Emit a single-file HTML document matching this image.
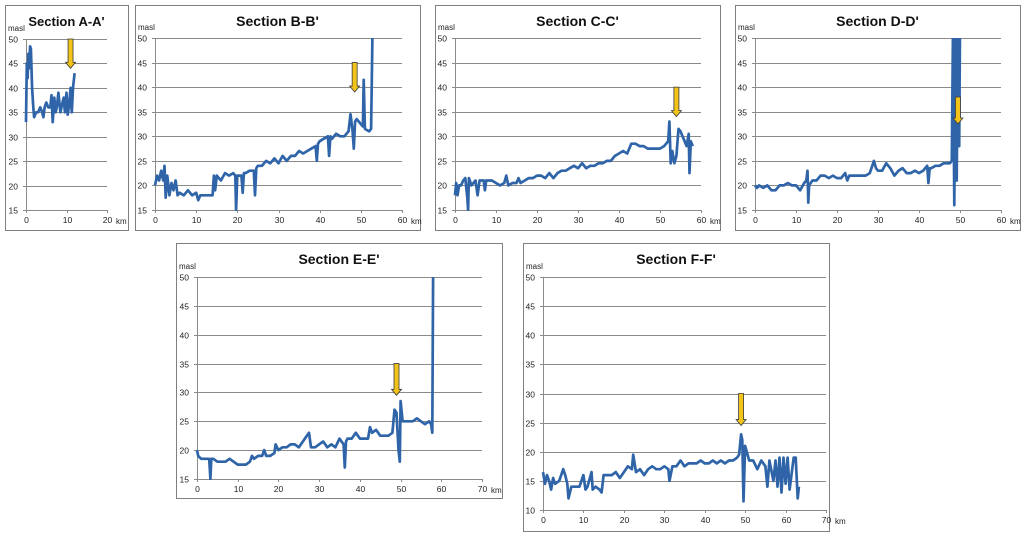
<!DOCTYPE html>
<html><head><meta charset="utf-8"><style>
html,body{margin:0;padding:0;background:#fff;}
svg{display:block;font-family:"Liberation Sans",sans-serif;}
</style></head><body>
<svg id="chart" width="1024" height="535" viewBox="0 0 1024 535" xmlns="http://www.w3.org/2000/svg"></svg>
<script>
// ---- data ----
const aKm=[0,0.2,0.4,0.6,0.8,1,1.2,1.5,1.8,2,2.5,3,3.5,4,4.3,4.6,5,5.5,6,6.3,6.6,7,7.3,7.6,8,8.5,9,9.3,9.6,10,10.3,10.6,11,11.3,11.6,12];
const aElev=[33,45,42,47,44,48.5,48,40,36,34,35,35,36,35,34,36,37,36,36,38.5,33,38,35,36,39,35,37,38,35,39,34.5,36,40,35,40,43];
const bKm=[0,0.5,1,1.5,2,2.3,2.6,3,3.5,4,4.5,5,5.5,6,7,8,9,10,10.5,11,11.5,12,13,14,14.3,14.6,15,16,17,18,19,19.5,19.7,20,21,21.3,21.6,22,23,24,24.3,24.6,25,26,27,28,29,30,31,32,33,34,35,36,37,38,39,39.3,39.6,40,41,42,42.3,42.6,43,44,45,46,47,47.5,48,48.3,48.6,49,50,50.5,50.7,51,52,52.5,52.8,53];
const bElev=[20,22,21,23,21,24,17.5,22,18,20.5,19,21,18,18.5,18,19,18,18.5,17,18,18,18,18,18,22,19,22,21,22.5,22,22.5,22,15,22,22,18.5,22.5,22.5,23,23,18,23.5,24,24,25,24.5,25.5,24.5,26,25,26,26,27,26.5,27,27.5,28,25,28.5,29,29.5,30,26,30,29.5,30.5,30,30,31,34.5,31,27.5,33,33.5,32.5,32,41.5,31.5,31,31.5,50,50];
const cKm=[0,0.3,0.6,1,1.5,2,2.5,3,3.2,3.4,3.6,4,5,5.5,6,7,7.3,7.6,8,9,10,11,12,12.5,13,14,15,15.5,16,17,18,19,20,21,22,23,24,25,26,27,28,29,30,31,32,33,34,35,36,37,38,39,40,41,42,43,44,45,46,47,48,49,50,51,52,52.3,52.6,53,53.5,54,54.5,55,55.5,56,56.5,57,57.2,57.5,58];
const cElev=[18,20.5,18,20,20,21,21.5,17.5,15,21.5,21,20,21,18,21,21,19,21,21,21,20.5,20,20.5,22,20,20.5,20.5,21.5,20.5,21,21.5,21.5,22,22,21.5,22.5,21.5,22.5,23,23,23.5,24,23.5,24.5,23.5,24,24,24.5,24.5,25,25,26,26.5,27,26.5,28.5,28.5,28,28,27.5,27.5,27.5,27.5,28,29,33,24.5,27,24.5,26,31.5,31,30,29,28,30.5,22.5,29,28];
const dKm=[0,0.5,1,2,3,4,5,6,7,8,9,10,11,12,12.5,12.8,13,13.2,14,15,16,17,18,19,20,21,22,22.5,23,24,25,26,27,28,29,29.5,30,31,32,33,34,35,36,37,38,39,40,41,42,42.3,42.6,43,44,45,46,47,47.5,48,48.3,48.6,48.9,49.2,49.5,49.8,50,50.3];
const dElev=[20,19.5,20,19.5,20,19,19,20,20,20.5,20,20,19,20.5,21,23,16.5,20,21,21,22,22,21.5,22,21.5,21.5,22.5,21,22,22,22,22,22,22.5,25,23.5,23,23,24.5,23.5,22,23,23.5,22.5,22.5,23,22.5,23,24,20.5,23.5,23.5,24,24,24.5,24.5,24.5,25,52,16,52,21,52,28,52,52];
const eKm=[0,0.3,1,2,3,3.3,3.5,4,5,6,7,8,9,10,11,12,13,13.5,14,15,16,16.5,17,18,19,19.3,20,21,22,23,24,25,26,27,27.5,28,29,30,31,32,33,34,35,36,36.3,36.6,37,38,39,40,41,42,42.5,43,44,45,46,47,48,48.5,49,49.5,49.8,50,50.5,51,52,53,54,55,56,57,57.5,57.8,58];
const eElev=[20,19,18.5,18.5,18.5,15,18.5,18.5,18,18,18,18.5,18,17.5,17.5,17.5,18,19,18.5,19,19,20,19,19,19.5,21,20,20.5,20.5,21,21,20.5,21.5,22.5,23,20.5,20.5,21,21.5,20.5,21,20.5,22,21,17,21.5,22,22,23,22,22,22,24,23,23.5,22.5,22.5,22.5,23,27,26.5,20,18,28.5,25,25,25,25,25.5,25,24.5,25,24.5,23,50];
const fKm=[0,0.5,1,1.5,2,2.5,3,4,5,5.5,6,6.3,7,8,9,10,10.5,11,12,12.3,13,14,14.5,15,16,17,18,19,20,21,22,22.3,23,24,25,26,27,28,29,30,31,31.3,32,33,34,35,36,37,38,39,40,41,42,43,44,45,46,47,48,48.5,49,49.3,49.6,50,51,52,53,54,55,55.5,56,57,57.5,58,58.5,59,59.5,60,60.5,61,62,62.5,63,63.3];
const fElev=[16.5,14.5,16,15,13.5,15.5,14.5,15,17,16,14.5,12,14,14,14,16,13.5,14,16.5,13.5,14,13.5,13,16,16,16,16.5,15.5,16.5,17.5,17,19.5,16.5,17,16,17,17.5,17,17,17.5,17,15,17.5,17.5,18.5,17.5,18,18,18,18.5,18,18,18.5,18,18.5,18,18.5,18.5,19,19.5,23,22,11.5,21,18.5,18.5,17,18.5,17.5,14,18.5,15,18.5,14,19,13,19,14.5,19,13.5,19,19,12,14];
const yTicks1550=[15,20,25,30,35,40,45,50];
const yTicks1050=[10,15,20,25,30,35,40,45,50];
const xTicks20=[0,10,20];
const xTicks60=[0,10,20,30,40,50,60];
const xTicks70=[0,10,20,30,40,50,60,70];
const arrowKm=[11,48.5,54,49.5,49,49];
const arrowTop=[50,45,40,38,35,30];
const arrowTip=[44,39,34,32.5,29.5,24.5];

const NS='http://www.w3.org/2000/svg';
const svg=document.getElementById('chart');
function el(tag,attrs,parent){const e=document.createElementNS(NS,tag);for(const k in attrs)e.setAttribute(k,attrs[k]);(parent||svg).appendChild(e);return e;}

const panels=[
 {id:'a',title:"Section A-A'",fs:13,box:[5,5,123,225],x0:26,x1:107,y0:210,y1:39,xmax:20,ymin:15,ymax:50,xt:xTicks20,yt:yTicks1550,km:aKm,el:aElev},
 {id:'b',title:"Section B-B'",fs:14,box:[135,5,285,225],x0:155,x1:402,y0:210,y1:38,xmax:60,ymin:15,ymax:50,xt:xTicks60,yt:yTicks1550,km:bKm,el:bElev},
 {id:'c',title:"Section C-C'",fs:14,box:[435,5,285,225],x0:455,x1:701,y0:210,y1:38,xmax:60,ymin:15,ymax:50,xt:xTicks60,yt:yTicks1550,km:cKm,el:cElev},
 {id:'d',title:"Section D-D'",fs:14,box:[735,5,285,225],x0:755,x1:1001,y0:210,y1:38,xmax:60,ymin:15,ymax:50,xt:xTicks60,yt:yTicks1550,km:dKm,el:dElev},
 {id:'e',title:"Section E-E'",fs:14,box:[176,243,326,255],x0:197,x1:482,y0:479,y1:277,xmax:70,ymin:15,ymax:50,xt:xTicks70,yt:yTicks1550,km:eKm,el:eElev},
 {id:'f',title:"Section F-F'",fs:14,box:[523,243,306,288],x0:543,x1:826,y0:510,y1:277,xmax:70,ymin:10,ymax:50,xt:xTicks70,yt:yTicks1050,km:fKm,el:fElev}
];

panels.forEach((p,i)=>{
  const g=el('g',{});
  
  
  const sx=v=>p.x0+(v/p.xmax)*(p.x1-p.x0);
  const sy=v=>p.y0-((v-p.ymin)/(p.ymax-p.ymin))*(p.y0-p.y1);
  const frame=el('rect',{x:p.box[0]+0.5,y:p.box[1]+0.5,width:p.box[2],height:p.box[3],fill:'#fff',stroke:'#7f7f7f','stroke-width':1},g);
  
  
  const t=el('text',{x:p.box[0]+p.box[2]/2,y:p.box[1]+21,'text-anchor':'middle','font-size':p.fs,'font-weight':'bold',fill:'#111'},g);
  t.textContent=p.title;
  
  
  const ml=el('text',{x:p.box[0]+3,y:p.y1-8,'font-size':8,fill:'#222'},g);
  ml.textContent='masl';
  
  
  p.yt.forEach(v=>{
    const y=Math.round(sy(v))+0.5;
    const gl=el('line',{x1:p.x0-3,x2:p.x1,y1:y,y2:y,stroke:'#8a8a8a','stroke-width':1},g);
    
    
    const tl=el('text',{x:p.x0-8,y:y+3,'text-anchor':'end','font-size':8.5,fill:'#222'},g);
    tl.textContent=v;
    
    
  });
  const ya=el('line',{x1:p.x0+0.5,x2:p.x0+0.5,y1:p.y1,y2:p.y0+3,stroke:'#8a8a8a','stroke-width':1},g);
  
  
  p.xt.forEach(v=>{
    const x=Math.round(sx(v))+0.5;
    const tk=el('line',{x1:x,x2:x,y1:p.y0,y2:p.y0+3,stroke:'#8a8a8a','stroke-width':1},g);
    
    
    const tl=el('text',{x:x,y:p.y0+13,'text-anchor':'middle','font-size':8.5,fill:'#222'},g);
    tl.textContent=v;
    
    
  });
  const kl=el('text',{x:p.x1+9,y:p.y0+14,'font-size':8,fill:'#222'},g);
  kl.textContent='km';
  
  
  const cp=el('clipPath',{id:'clip'+p.id},g);
  el('rect',{x:p.x0-2,y:p.y1,width:p.x1-p.x0+4,height:p.y0-p.y1+1},cp);
  const n=Math.min(p.km.length,p.el.length);
  let pts=[];
  for(let k=0;k<n;k++)pts.push(sx(p.km[k]).toFixed(1)+','+sy(p.el[k]).toFixed(1));
  const line=el('polyline',{points:pts.join(' '),fill:'none',stroke:'#2f65a8','stroke-width':2.7,'stroke-linejoin':'round','clip-path':'url(#clip'+p.id+')'},g);
  
  
  const ax=sx(arrowKm[i]),at=sy(arrowTop[i]),tip=sy(arrowTip[i]);
  const hh=6;
  const arr=el('path',{d:`M${ax-2.5},${at} L${ax+2.5},${at} L${ax+2.5},${tip-hh} L${ax+5},${tip-hh} L${ax},${tip} L${ax-5},${tip-hh} L${ax-2.5},${tip-hh} Z`,fill:'#f2c318',stroke:'#3a3a3a','stroke-width':0.8},g);
  
  
});
</script>
</body></html>
